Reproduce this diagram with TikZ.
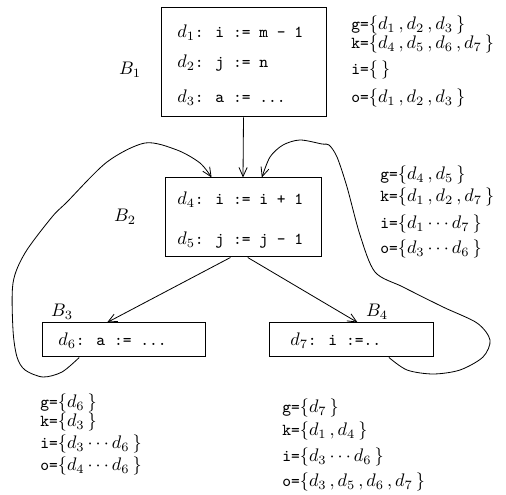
\documentclass[tikz,border=0pt]{standalone}
\usetikzlibrary{arrows.meta,fit,calc}
\newcommand{\tts}[1]{{\fontsize{9.2}{11}\ttfamily #1}}
\tikzset{
  blk/.style={draw, inner sep=0pt, line width=0.55pt},
  arr/.style={-{Straight Barb[length=5pt,width=4.5pt]}, line width=0.45pt},
  txt/.style={anchor=west, inner sep=0pt},
}
\begin{document}
\begin{tikzpicture}[x=0.55pt,y=-0.55pt]
\useasboundingbox (0,0) rectangle (506,495);
\node[blk, fit={(161,8) (326,117)}] (b1) {};
\node[blk, fit={(165,178) (321,257)}] (b2) {};
\node[blk, fit={(42,323) (205,357)}] (b3) {};
\node[blk, fit={(269,323) (433,357)}] (b4) {};
\node[txt] (b1l1) at (177,33) {$d_1$\tts{: i := m - 1}};
\node[txt] (b1l2) at (177,63) {$d_2$\tts{: j := n}};
\node[txt] (b1l3) at (177,98) {$d_3$\tts{: a := ...}};
\node[txt] (b2l1) at (177,200) {$d_4$\tts{: i := i + 1}};
\node[txt] (b2l2) at (177,240) {$d_5$\tts{: j := j - 1}};
\node[txt] (b3l1) at (58,341) {$d_6$\tts{: a := ...}};
\node[txt] (b4l1) at (290,341) {$d_7$\tts{: i :=..}};
\node (b1name) at (130,70) {$B_1$};
\node (b2name) at (125,217) {$B_2$};
\node (b3name) at (62,312) {$B_3$};
\node (b4name) at (377,312) {$B_4$};
\node[txt] (b1g) at (351,25) {\tts{g=}$\{d_1\,,d_2\,,d_3\,\}$};
\node[txt] (b1k) at (351,44) {\tts{k=}$\{d_4\,,d_5\,,d_6\,,d_7\,\}$};
\node[txt] (b1i) at (351,70) {\tts{i=}$\{\,\}$};
\node[txt] (b1o) at (351,98) {\tts{o=}$\{d_1\,,d_2\,,d_3\,\}$};
\node[txt] (b2g) at (380,175) {\tts{g=}$\{d_4\,,d_5\,\}$};
\node[txt] (b2k) at (380,197) {\tts{k=}$\{d_1\,,d_2\,,d_7\,\}$};
\node[txt] (b2i) at (380,224) {\tts{i=}$\{d_1\cdots d_7\,\}$};
\node[txt] (b2o) at (380,249) {\tts{o=}$\{d_3\cdots d_6\,\}$};
\node[txt] (b3g) at (40,403) {\tts{g=}$\{d_6\,\}$};
\node[txt] (b3k) at (40,422) {\tts{k=}$\{d_3\,\}$};
\node[txt] (b3i) at (40,444) {\tts{i=}$\{d_3\cdots d_6\,\}$};
\node[txt] (b3o) at (40,466) {\tts{o=}$\{d_4\cdots d_6\,\}$};
\node[txt] (b4g) at (282,408) {\tts{g=}$\{d_7\,\}$};
\node[txt] (b4k) at (282,431) {\tts{k=}$\{d_1\,,d_4\,\}$};
\node[txt] (b4i) at (282,457) {\tts{i=}$\{d_3\cdots d_6\,\}$};
\node[txt] (b4o) at (282,482) {\tts{o=}$\{d_3\,,d_5\,,d_6\,,d_7\,\}$};
\draw[arr] (b1.south) -- (b2.north);
\draw[arr] ($(b2.south west)!0.42!(b2.south east)$) -- ($(b3.north west)!0.40!(b3.north east)$);
\draw[arr] ($(b2.south west)!0.53!(b2.south east)$) -- ($(b4.north west)!0.54!(b4.north east)$);
\coordinate (s3) at ($(b3.south west)!0.23!(b3.south east)$);
\coordinate (s4) at ($(b4.south west)!0.73!(b4.south east)$);
\coordinate (e3) at ($(b2.north west)!0.30!(b2.north east)$);
\coordinate (e4) at ($(b2.north west)!0.62!(b2.north east)$);
\draw[arr] plot[smooth] coordinates {(s3) (62,372) (43,377) (25,370) (17,357) (13,330) (13,283) (25,253) (52,217) (67,202) (107,162) (145,143) (177,150) (200,163) (e3)};
\draw[arr] plot[smooth] coordinates {(s4) (407,370) (433,374) (460,370) (483,357) (490,340) (477,323) (443,307) (403,287) (375,272) (360,235) (347,187) (337,157) (329,145) (322,144) (300,140) (283,145) (270,157) (e4)};
\end{tikzpicture}
\end{document}
